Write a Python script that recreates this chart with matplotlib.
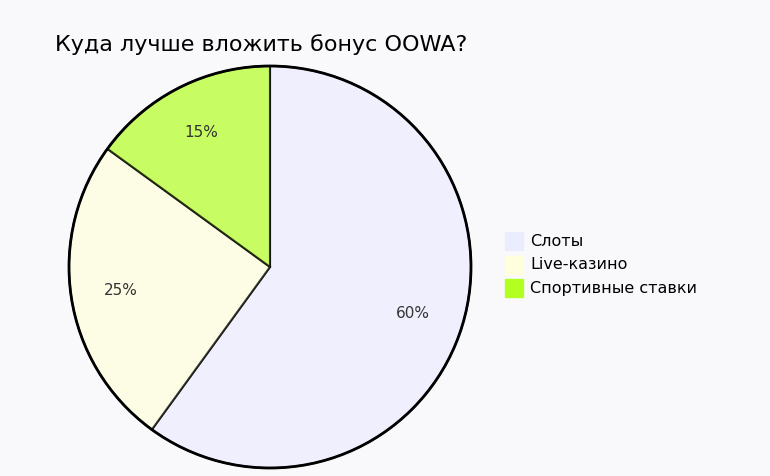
import matplotlib
matplotlib.use("Agg")
import matplotlib.pyplot as plt
from matplotlib.patches import Rectangle

labels = ["Слоты", "Live-казино", "Спортивные ставки"]
values = [60, 25, 15]
colors = ["#ECECFF", "#FFFFDE", "#B3FF21"]

fig = plt.figure(figsize=(7.7, 4.76), dpi=100)
fig.patch.set_facecolor("#f9f9fb")
ax = fig.add_axes([270/770 - 203/770, (476-267)/476 - 203/476, 406/770, 406/476])
wedges, texts = ax.pie(values, colors=colors, startangle=90, counterclock=False,
                       wedgeprops=dict(edgecolor="black", linewidth=1.5, alpha=0.7))
for w in wedges:
    w.set_edgecolor((0, 0, 0, 1))
import numpy as np
ang = 90.0
for v in values:
    mid = np.deg2rad(ang - v * 3.6 / 2)
    ax.text(0.75*np.cos(mid), 0.75*np.sin(mid), f"{v}%", ha="center", va="center",
            fontsize=11, color="#333333")
    ang -= v * 3.6
ax.add_patch(plt.Circle((0, 0), 1.0, fill=False, edgecolor="black", linewidth=2))
ax.set_xlim(-1.01, 1.01); ax.set_ylim(-1.01, 1.01)
ax.set_aspect("equal")
fig.text(55/770, 1 - 45/476, "Куда лучше вложить бонус OOWA?", fontsize=16, va="center", ha="left")
for i, (l, c) in enumerate(zip(labels, colors)):
    y = 241 + i*23.5
    fig.patches.append(Rectangle((505/770, 1-(y+9)/476), 18/770, 18/476, transform=fig.transFigure,
                                 facecolor=c, edgecolor=c, figure=fig))
    fig.text(530/770, 1 - y/476, l, fontsize=11.5, va="center", ha="left")
fig.savefig("out.png", dpi=100, facecolor=fig.get_facecolor())
